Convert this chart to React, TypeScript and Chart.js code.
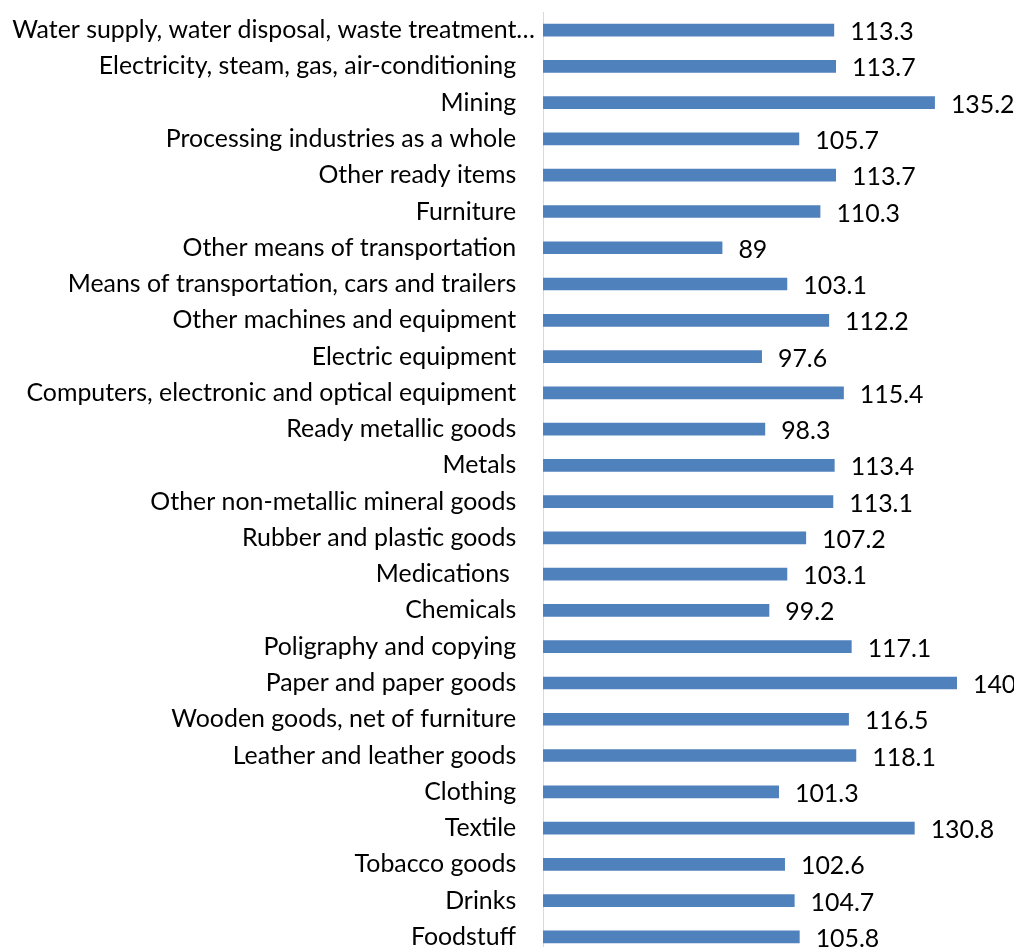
import React, { useEffect, useRef } from "react";
import { Chart, registerables } from "chart.js";

Chart.register(...registerables);

const categories: string[] = [
  "Water supply, water disposal, waste treatment…",
  "Electricity, steam, gas, air-conditioning",
  "Mining",
  "Processing industries as a whole",
  "Other ready items",
  "Furniture",
  "Other means of transportation",
  "Means of transportation, cars and trailers",
  "Other machines and equipment",
  "Electric equipment",
  "Computers, electronic and optical equipment",
  "Ready metallic goods",
  "Metals",
  "Other non-metallic mineral goods",
  "Rubber and plastic goods",
  "Medications ",
  "Chemicals",
  "Poligraphy and copying",
  "Paper and paper goods",
  "Wooden goods, net of furniture",
  "Leather and leather goods",
  "Clothing",
  "Textile",
  "Tobacco goods",
  "Drinks",
  "Foodstuff",
];

const values: number[] = [
  113.3, 113.7, 135.2, 105.7, 113.7, 110.3, 89, 103.1, 112.2, 97.6, 115.4, 98.3,
  113.4, 113.1, 107.2, 103.1, 99.2, 117.1, 140, 116.5, 118.1, 101.3, 130.8,
  102.6, 104.7, 105.8,
];

const axisMin = 50;
const axisMax = 150;

const FONT_FAMILY = "Lato";

function pickFontSize(): number {
  const c = document.createElement("canvas").getContext("2d");
  if (!c) return 22;
  c.font = `100px ${FONT_FAMILY}`;
  const w = c.measureText("Computers, electronic and optical equipment").width;
  return Math.round((100 * 490) / w * 10) / 10;
}

export default function App() {
  const ref = useRef<HTMLCanvasElement | null>(null);

  useEffect(() => {
    if (!ref.current) return;
    const fontSize = pickFontSize();

    const valueLabels = {
      id: "valueLabels",
      afterDatasetsDraw(chart: any) {
        const ctx = chart.ctx;
        const meta = chart.getDatasetMeta(0);
        ctx.save();
        ctx.font = `${fontSize}px ${FONT_FAMILY}`;
        ctx.fillStyle = "#000000";
        ctx.textAlign = "left";
        ctx.textBaseline = "middle";
        meta.data.forEach((bar: any, i: number) => {
          ctx.fillText(String(values[i]), bar.x + 16, bar.y + 2);
        });
        ctx.restore();
      },
    };

    const chart = new Chart(ref.current, {
      type: "bar",
      data: {
        labels: categories,
        datasets: [
          {
            data: values,
            backgroundColor: "#4F81BD",
            borderWidth: 0,
            categoryPercentage: 1,
            barPercentage: 0.35,
          },
        ],
      },
      options: {
        indexAxis: "y",
        animation: false,
        responsive: true,
        maintainAspectRatio: false,
        layout: { padding: { top: 12, right: 11, bottom: 1, left: 0 } },
        plugins: {
          legend: { display: false },
          tooltip: { enabled: false },
        },
        scales: {
          x: {
            display: false,
            min: axisMin,
            max: axisMax,
          },
          y: {
            afterFit(scale: any) {
              scale.width = 543;
              scale.paddingTop = 0;
              scale.paddingBottom = 0;
            },
            grid: { display: false },
            border: { display: true, color: "#D9D9D9", width: 1 },
            ticks: {
              padding: 0,
              color: "#000000",
              font: { family: FONT_FAMILY, size: fontSize },
              autoSkip: false,
              callback(this: any, value: any) {
                const lbl: string = this.getLabelForValue(value);
                return lbl.endsWith("…") ? lbl : lbl + "\u2002 ";
              },
            },
          },
        },
      },
      plugins: [valueLabels],
    });
    return () => chart.destroy();
  }, []);

  return (
    <div
      style={{
        position: "fixed",
        left: 0,
        top: 0,
        width: 1014,
        height: 947,
        overflow: "hidden",
        background: "#ffffff",
      }}
    >
      <div style={{ position: "relative", width: 1014, height: 956 }}>
        <canvas ref={ref} />
      </div>
    </div>
  );
}
